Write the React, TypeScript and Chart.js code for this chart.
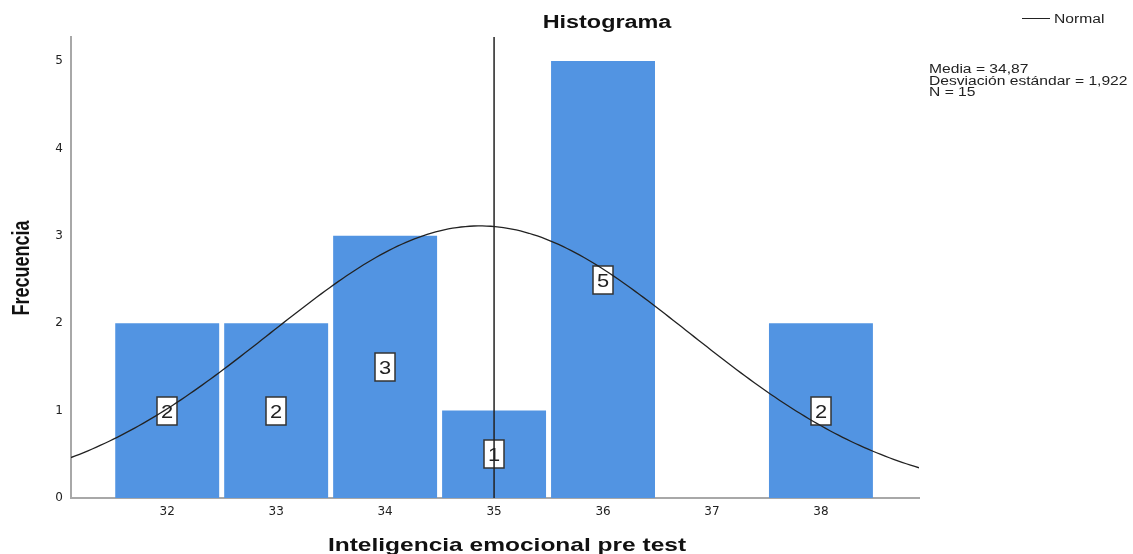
import React, { useEffect, useRef } from "react";
import { Chart, registerables } from "chart.js";

Chart.register(...registerables);

const CATEGORIES = [32, 33, 34, 35, 36, 37, 38];
const FREQUENCIES = [2, 2, 3, 1, 5, 0, 2];
const Y_TICKS = [0, 1, 2, 3, 4, 5];
const X_TICKS = [32, 33, 34, 35, 36, 37, 38];
const MEAN = 34.87;
const SD = 1.922;
const N = 15;
const BIN_WIDTH = 1;
const REF_LINE_X = 35;
const X_MIN = 31.117;
const X_MAX = 38.9;
const Y_MAX = 5.275;
const STATS_LINES = ["Media = 34,87", "Desviación estándar = 1,922", "N = 15"];

const FONT = '"Liberation Sans", Arial, sans-serif';

function normalCurve() {
  const pts: { x: number; y: number }[] = [];
  const steps = 200;
  for (let i = 0; i <= steps; i++) {
    const x = X_MIN + ((X_MAX - X_MIN) * i) / steps;
    const z = (x - MEAN) / SD;
    const y = (N * BIN_WIDTH) / (SD * Math.sqrt(2 * Math.PI)) * Math.exp(-0.5 * z * z);
    pts.push({ x, y });
  }
  return pts;
}

function stretchText(ctx: CanvasRenderingContext2D, text: string, x: number, y: number, sx: number, align: CanvasTextAlign) {
  ctx.save();
  ctx.translate(x, y);
  ctx.scale(sx, 1);
  ctx.textAlign = align;
  ctx.textBaseline = "alphabetic";
  ctx.fillText(text, 0, 0);
  ctx.restore();
}

const labelsPlugin = {
  id: "barLabels",
  afterDatasetDraw(chart: any, args: any) {
    if (chart.data.datasets[args.index].type !== "bar") return;
    const ctx = chart.ctx as CanvasRenderingContext2D;
    const xs = chart.scales.x;
    const ys = chart.scales.y;
    ctx.save();
    CATEGORIES.forEach((c, i) => {
      const v = FREQUENCIES[i];
      if (!v) return;
      const cx = Math.round(xs.getPixelForValue(c));
      const cy = Math.round(ys.getPixelForValue(v / 2));
      const w = 20;
      const h = 28;
      ctx.fillStyle = "#ffffff";
      ctx.fillRect(cx - w / 2, cy - h / 2, w, h);
      ctx.strokeStyle = "#333333";
      ctx.lineWidth = 1.5;
      ctx.strokeRect(cx - w / 2, cy - h / 2, w, h);
      ctx.fillStyle = "#222222";
      ctx.font = `19px ${FONT}`;
      ctx.save();
      ctx.translate(cx, cy + 7);
      ctx.scale(1.15, 1);
      ctx.textAlign = "center";
      ctx.textBaseline = "alphabetic";
      ctx.fillText(String(v), 0, 0);
      ctx.restore();
    });
    ctx.restore();
  },
};

const textPlugin = {
  id: "texts",
  afterDraw(chart: any) {
    const ctx = chart.ctx as CanvasRenderingContext2D;
    ctx.save();
    ctx.fillStyle = "#111111";
    // Title
    ctx.font = `bold 18px ${FONT}`;
    stretchText(ctx, "Histograma", 607, 28, 1.3, "center");
    // X axis title
    ctx.font = `bold 19px ${FONT}`;
    stretchText(ctx, "Inteligencia emocional pre test", 507, 551, 1.29, "center");
    // Y axis title
    ctx.font = `bold 18px ${FONT}`;
    ctx.save();
    ctx.translate(29, 268);
    ctx.rotate(-Math.PI / 2);
    ctx.scale(1, 1.3);
    ctx.textAlign = "center";
    ctx.textBaseline = "alphabetic";
    ctx.fillText("Frecuencia", 0, 0);
    ctx.restore();
    // Legend
    ctx.strokeStyle = "#222222";
    ctx.lineWidth = 1;
    ctx.beginPath();
    ctx.moveTo(1022, 18.5);
    ctx.lineTo(1050, 18.5);
    ctx.stroke();
    ctx.fillStyle = "#222222";
    ctx.font = `12.5px ${FONT}`;
    stretchText(ctx, "Normal", 1054, 23, 1.25, "left");
    // Stats
    const baselines = [73.3, 84.6, 96];
    STATS_LINES.forEach((t, i) => stretchText(ctx, t, 929, baselines[i], 1.25, "left"));
    ctx.restore();
  },
};

export default function App() {
  const ref = useRef<HTMLCanvasElement | null>(null);
  useEffect(() => {
    if (!ref.current) return;
    const chart = new Chart(ref.current, {
      type: "bar",
      data: {
        datasets: [
          {
            type: "line",
            label: "Ref",
            data: [
              { x: REF_LINE_X, y: 0 },
              { x: REF_LINE_X, y: Y_MAX },
            ],
            borderColor: "#222222",
            borderWidth: 1.5,
            pointRadius: 0,
            order: 0,
          } as any,
          {
            type: "line",
            label: "Normal",
            data: normalCurve(),
            borderColor: "#222222",
            borderWidth: 1.3,
            pointRadius: 0,
            tension: 0,
            order: 0,
          } as any,
          {
            type: "bar",
            label: "Frecuencia",
            data: CATEGORIES.map((c, i) => ({ x: c, y: FREQUENCIES[i] })),
            backgroundColor: "#5294E2",
            borderWidth: 0,
            barPercentage: 0.954,
            categoryPercentage: 1,
            order: 1,
          } as any,
        ],
      },
      options: {
        responsive: false,
        animation: false,
        layout: { padding: { left: 0, right: 214, top: 37, bottom: 0 } },
        plugins: { legend: { display: false }, tooltip: { enabled: false }, title: { display: false } },
        scales: {
          x: {
            type: "linear",
            min: X_MIN,
            max: X_MAX,
            offset: false,
            grid: { display: false, drawTicks: false },
            border: { display: true, color: "#a8a8a8", width: 2 },
            afterBuildTicks: (s: any) => {
              s.ticks = X_TICKS.map((v) => ({ value: v }));
            },
            afterFit: (s: any) => {
              s.height = 56;
            },
            ticks: {
              padding: 7,
              color: "#222222",
              font: { family: '"DejaVu Sans", sans-serif', size: 12 },
              callback: (v: any) => String(v),
            },
          },
          y: {
            type: "linear",
            min: 0,
            max: Y_MAX,
            grid: { display: false, drawTicks: false },
            border: { display: true, color: "#a8a8a8", width: 2 },
            afterBuildTicks: (s: any) => {
              s.ticks = Y_TICKS.map((v) => ({ value: v }));
            },
            afterFit: (s: any) => {
              s.width = 71;
            },
            ticks: {
              padding: 8,
              color: "#222222",
              font: { family: '"DejaVu Sans", sans-serif', size: 12 },
              callback: (v: any) => String(v),
            },
          },
        },
      },
      plugins: [labelsPlugin, textPlugin],
    });
    return () => chart.destroy();
  }, []);
  return (
    <div style={{ position: "absolute", left: 0, top: 0, width: 1133, height: 554, background: "#fff" }}>
      <canvas ref={ref} width={1133} height={554} style={{ display: "block" }} />
    </div>
  );
}
